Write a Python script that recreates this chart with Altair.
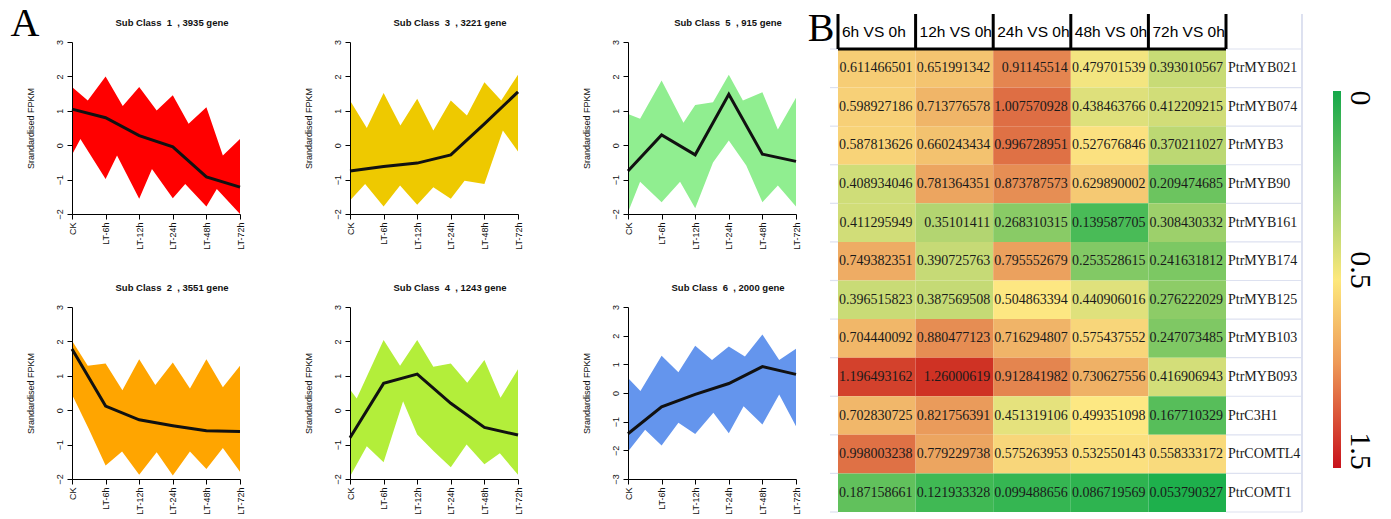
import json
import altair as alt
import pandas as pd

# ---------------- Panel A data ----------------
TIME_LABELS = ["CK", "LT-6h", "LT-12h", "LT-24h", "LT-48h", "LT-72h"]
TIME_POS = [0, 1, 2, 3, 4, 5]

CLASS_ORDER = [1, 3, 5, 2, 4, 6]
CLASS_GENES = {1: 3935, 2: 3551, 3: 3221, 4: 1243, 5: 915, 6: 2000}
CLASS_COLORS = {1: "#FF0000", 2: "#FFA500", 3: "#EEC900", 4: "#B3EE3A", 5: "#90EE90", 6: "#6495ED"}
CLASS_YRANGE = {1: (-2, 3), 2: (-2, 3), 3: (-2, 3), 4: (-2, 3), 5: (-2, 3), 6: (-3, 3)}

# mean profile (black line)
MEAN = {
    1: [1.05, 0.80, 0.28, -0.05, -0.92, -1.22],
    2: [1.78, 0.12, -0.28, -0.45, -0.60, -0.62],
    3: [-0.75, -0.62, -0.52, -0.28, 0.62, 1.55],
    4: [-0.80, 0.78, 1.05, 0.20, -0.50, -0.72],
    5: [-0.75, 0.30, -0.28, 1.48, -0.26, -0.47],
    6: [-1.42, -0.48, -0.05, 0.33, 0.92, 0.65],
}

# outline of the bundle of gene profiles (upper edge)
UPPER_X = {
    1: [0, 0.47, 1, 1.51, 2, 2.52, 3, 3.47, 4, 4.49, 5],
    2: [0, 0.47, 1, 1.50, 2, 2.48, 3, 3.51, 4, 4.49, 5],
    3: [0, 0.50, 1, 1.50, 2, 2.48, 3, 3.48, 4, 4.50, 5],
    4: [0, 0.20, 1, 1.49, 2, 2.48, 3, 3.49, 4, 4.48, 5],
    5: [0, 0.36, 1, 1.65, 2, 2.53, 3, 3.42, 4, 4.46, 5],
    6: [0, 0.37, 1, 1.50, 2, 2.50, 3, 3.48, 4, 4.50, 5],
}
UPPER_Y = {
    1: [1.69, 1.30, 2.00, 1.14, 1.69, 1.01, 1.45, 0.62, 1.10, -0.30, 0.18],
    2: [2.02, 1.29, 1.36, 0.58, 1.48, 0.73, 1.39, 0.63, 1.48, 0.67, 1.29],
    3: [1.30, 0.50, 1.52, 0.57, 1.35, 0.43, 1.30, 0.86, 1.83, 1.30, 2.05],
    4: [0.60, 0.34, 2.04, 1.29, 2.04, 1.26, 1.36, 0.80, 1.46, 0.36, 1.19],
    5: [0.91, 0.77, 1.88, 0.65, 1.17, 1.25, 2.05, 1.30, 1.54, 0.46, 1.38],
    6: [0.52, 0.07, 1.30, 0.72, 1.65, 1.15, 1.62, 1.27, 2.04, 1.15, 1.54],
}
# outline of the bundle of gene profiles (lower edge)
LOWER_X = {
    1: [0, 0.25, 1, 1.34, 2, 2.38, 3, 3.37, 4, 4.31, 5],
    2: [0, 0.50, 1, 1.49, 2, 2.52, 3, 3.51, 4, 4.49, 5],
    3: [0, 0.45, 1, 1.49, 2, 2.48, 3, 3.41, 4, 4.55, 5],
    4: [0, 0.50, 1, 1.58, 2, 2.50, 3, 3.47, 4, 4.46, 5],
    5: [0, 0.36, 1, 1.55, 2, 2.53, 3, 3.52, 4, 4.46, 5],
    6: [0, 0.51, 1, 1.50, 2, 2.54, 3, 3.44, 4, 4.50, 5],
}
LOWER_Y = {
    1: [-0.28, 0.18, -0.98, -0.30, -1.56, -0.69, -1.54, -1.13, -1.78, -1.27, -2.00],
    2: [0.46, -0.55, -1.61, -1.20, -1.88, -1.22, -1.90, -1.20, -1.71, -1.10, -1.79],
    3: [-1.61, -1.13, -1.78, -1.17, -1.73, -1.22, -1.56, -1.03, -1.13, 0.43, -0.18],
    4: [-1.93, -1.05, -1.51, 0.26, -0.71, -1.20, -1.66, -1.00, -1.57, -1.25, -1.88],
    5: [-1.95, -1.06, -1.66, -1.06, -1.83, -0.50, 0.14, -0.59, -1.66, -1.17, -1.78],
    6: [-2.04, -1.28, -1.83, -1.04, -1.43, -0.69, -1.40, -0.46, -1.10, -0.05, -1.16],
}

# ---------------- Panel B data ----------------
GENES = ["PtrMYB021", "PtrMYB074", "PtrMYB3", "PtrMYB90", "PtrMYB161", "PtrMYB174",
         "PtrMYB125", "PtrMYB103", "PtrMYB093", "PtrC3H1", "PtrCOMTL4", "PtrCOMT1"]
COMPARISONS = ["6h VS 0h", "12h VS 0h", "24h VS 0h", "48h VS 0h", "72h VS 0h"]
V_6H = [0.611466501, 0.598927186, 0.587813626, 0.408934046, 0.411295949, 0.749382351,
        0.396515823, 0.704440092, 1.196493162, 0.702830725, 0.998003238, 0.187158661]
V_12H = [0.651991342, 0.713776578, 0.660243434, 0.781364351, 0.35101411, 0.390725763,
         0.387569508, 0.880477123, 1.26000619, 0.821756391, 0.779229738, 0.121933328]
V_24H = [0.91145514, 1.007570928, 0.996728951, 0.873787573, 0.268310315, 0.795552679,
         0.504863394, 0.716294807, 0.912841982, 0.451319106, 0.575263953, 0.099488656]
V_48H = [0.479701539, 0.438463766, 0.527676846, 0.629890002, 0.139587705, 0.253528615,
         0.440906016, 0.575437552, 0.730627556, 0.499351098, 0.532550143, 0.086719569]
V_72H = [0.393010567, 0.412209215, 0.370211027, 0.209474685, 0.308430332, 0.241631812,
         0.276222029, 0.247073485, 0.416906943, 0.167710329, 0.558333172, 0.053790327]
LEGEND_TICKS = [0, 0.5, 1.5]
LEGEND_LABELS = ["0", "0.5", "1.5"]
PANEL_LETTERS = ["A", "B"]

# ---------------- styling / layout ----------------
SANS = "Liberation Sans"
SERIF = "Liberation Serif"
NB = "\u00a0"
label_expr = json.dumps(TIME_LABELS) + "[datum.value]"
PLOT_W, PLOT_H = 168, 172
CELL_W = 278          # every panel-A cell: plot (168) + gap (110)
HEAT_SHIFT = 68       # heatmap starts this far left of its grid cell
HEAT_W = 427          # grid cell of the heatmap (up to the colour key)
TABLE_W = 388         # five value columns
KEY_W = 8


def subclass_chart(k):
    ymin, ymax = CLASS_YRANGE[k]
    xs = alt.Scale(domain=[0, 5], range=[0, PLOT_W], nice=False, zero=False)
    ys = alt.Scale(domain=[ymin, ymax], nice=False, zero=False)
    xaxis = alt.Axis(values=TIME_POS, labelExpr=label_expr, labelAngle=270, title=None,
                     grid=False, labelFont=SANS, labelFontSize=9, labelColor="#111",
                     labelFlush=False, labelOverlap=False, labelBound=False,
                     tickSize=5, tickColor="black", domainColor="black", zindex=1,
                     labelPadding=3)
    yaxis = alt.Axis(values=list(range(ymin, ymax + 1)), labelAngle=270, title="Srandardised FPKM",
                     grid=False, labelFont=SANS, labelFontSize=9, labelColor="#111",
                     labelFlush=False, labelOverlap=False, labelBound=False,
                     labelSeparation=0,
                     tickSize=5, tickColor="black", domainColor="black", zindex=1,
                     titleFont=SANS, titleFontSize=9, titleFontWeight="normal",
                     titleColor="#111", titlePadding=20, labelPadding=3)
    up = pd.DataFrame({"pos": UPPER_X[k], "val": UPPER_Y[k]})
    lo = pd.DataFrame({"pos": LOWER_X[k], "val": LOWER_Y[k]})
    mean = pd.DataFrame({"pos": TIME_POS, "val": MEAN[k]})

    band = alt.Chart(up).mark_area(color=CLASS_COLORS[k], opacity=1).encode(
        x=alt.X("pos:Q", scale=xs, axis=xaxis),
        y=alt.Y("val:Q", scale=ys, axis=yaxis),
        y2=alt.datum(ymin),
    )
    cut = alt.Chart(lo).mark_area(color="white", opacity=1).encode(
        x=alt.X("pos:Q", scale=xs, axis=xaxis),
        y=alt.Y("val:Q", scale=ys, axis=yaxis),
        y2=alt.datum(ymin),
    )
    line = alt.Chart(mean).mark_line(color="#111", strokeWidth=3).encode(
        x=alt.X("pos:Q", scale=xs, axis=xaxis),
        y=alt.Y("val:Q", scale=ys, axis=yaxis),
    )
    title = alt.TitleParams(
        text=f"Sub Class{NB}{NB}{k}{NB}{NB}, {CLASS_GENES[k]} gene", font=SANS, fontSize=9.5,
        fontWeight="bold", color="#111", anchor="middle", dx=PLOT_W / 2 + 16 - CELL_W / 2,
        offset=12, frame="group",
    )
    return alt.layer(band, cut, line).properties(width=CELL_W, height=PLOT_H, title=title)


charts = {k: subclass_chart(k) for k in CLASS_ORDER}

# ---------------- Panel B: heatmap ----------------
cols = [V_6H, V_12H, V_24H, V_48H, V_72H]
recs = []
for j, (cname, vals) in enumerate(zip(COMPARISONS, cols)):
    for i, (g, v) in enumerate(zip(GENES, vals)):
        recs.append({"gene": g, "comp": cname, "value": v, "label": str(v),
                     "i0": i, "i1": i + 1, "im": i + 0.5, "j0": j, "j1": j + 1})
hm = pd.DataFrame(recs)
gene_df = pd.DataFrame({"gene": GENES, "i0": range(len(GENES))})
gene_df["im"] = gene_df["i0"] + 0.5
comp_df = pd.DataFrame({"comp": COMPARISONS, "j0": range(len(COMPARISONS))})
bound_df = pd.DataFrame({"b": range(len(COMPARISONS) + 1)})
row_bound_df = pd.DataFrame({"b": range(len(GENES) + 1)})

x0, x1 = -HEAT_SHIFT, TABLE_W - HEAT_SHIFT
hx = alt.Scale(domain=[0, len(COMPARISONS)], range=[x0, x1], nice=False, zero=False)
hy = alt.Scale(domain=[0, len(GENES)], range=[7, 470], nice=False, zero=False)

cells = alt.Chart(hm).mark_rect().encode(
    x=alt.X("j0:Q", scale=hx, axis=None), x2="j1:Q",
    y=alt.Y("i0:Q", scale=hy, axis=None), y2="i1:Q",
    color=alt.Color("value:Q", legend=None,
                    scale=alt.Scale(domain=[0.0538, 0.5, 1.26],
                                    range=["#1eb04c", "#fde883", "#cf3224"], interpolate="rgb")),
)
cell_text = alt.Chart(hm).mark_text(
    font=SERIF, fontSize=14, align="right", baseline="middle", dx=-3, color="#1a1a1a"
).encode(x=alt.X("j1:Q", scale=hx), y=alt.Y("im:Q", scale=hy), text="label:N")
row_labels = alt.Chart(gene_df).mark_text(
    font=SERIF, fontSize=14, align="left", baseline="middle", color="#1a1a1a"
).encode(x=alt.value(x1 + 2), y=alt.Y("im:Q", scale=hy), text="gene:N")
grid_lines = alt.Chart(row_bound_df).mark_rule(color="#dde1f0", strokeWidth=1.2).encode(
    y=alt.Y("b:Q", scale=hy), x=alt.value(x1), x2=alt.value(x1 + 76))
left_ticks = alt.Chart(row_bound_df).mark_rule(color="#dde1f0", strokeWidth=1.2).encode(
    y=alt.Y("b:Q", scale=hy), x=alt.value(x0 - 8), x2=alt.value(x0))
right_edge = alt.Chart(row_bound_df).mark_rule(color="#dde1f0", strokeWidth=1.2).encode(
    x=alt.value(x1 + 76), y=alt.value(-28), y2=alt.value(470))
header_text = alt.Chart(comp_df).mark_text(
    font=SANS, fontSize=15.5, align="left", baseline="middle", dx=4, color="black"
).encode(x=alt.X("j0:Q", scale=hx), y=alt.value(-10), text="comp:N")
header_bars = alt.Chart(bound_df).mark_rule(color="black", strokeWidth=3).encode(
    x=alt.X("b:Q", scale=hx), y=alt.value(-28), y2=alt.value(7))
header_line = alt.Chart(bound_df).mark_rule(color="black", strokeWidth=3).encode(
    x=alt.X("min(b):Q", scale=hx), x2="max(b):Q", y=alt.value(7))
letters = alt.Chart(pd.DataFrame({"t": PANEL_LETTERS, "px": [25 - 906, 821 - 906],
                                  "py": [-6, -1]})).mark_text(
    font=SERIF, fontSize=40, align="center", baseline="alphabetic", color="black"
).encode(text="t:N", x=alt.X("px:Q", scale=None), y=alt.Y("py:Q", scale=None))

heatmap = alt.layer(
    cells, cell_text, grid_lines, left_ticks, right_edge, row_labels,
    header_text, header_bars, header_line, letters
).properties(width=HEAT_W, height=PLOT_H)

# ---------------- color key ----------------
key_bar = alt.Chart(pd.DataFrame({"lo": [LEGEND_TICKS[0]], "hi": [LEGEND_TICKS[-1]]})).mark_rect(
    color=alt.Gradient(
        gradient="linear",
        stops=[alt.GradientStop(color="#15a84a", offset=0),
               alt.GradientStop(color="#8fcd6a", offset=0.27),
               alt.GradientStop(color="#fde87c", offset=0.5),
               alt.GradientStop(color="#ee9a58", offset=0.72),
               alt.GradientStop(color="#c8121c", offset=1)],
        x1=0, x2=0, y1=0, y2=1,
    ),
    strokeWidth=0,
).encode(
    y=alt.Y("lo:Q", scale=alt.Scale(domain=[0, 1.5], range=[49, 426], nice=False, zero=False), axis=None),
    y2="hi:Q", x=alt.value(0), x2=alt.value(8),
)
key_labels = alt.Chart(pd.DataFrame({"v": LEGEND_TICKS, "t": LEGEND_LABELS})).mark_text(
    font=SERIF, fontSize=30, angle=90, align="center", baseline="middle", color="black"
).encode(
    y=alt.Y("v:Q", scale=alt.Scale(domain=[0, 0.5, 1.5], range=[56, 228, 409], nice=False, zero=False),
            axis=None),
    x=alt.value(27), text="t:N",
)
key = alt.layer(key_bar, key_labels).resolve_scale(y="independent").properties(width=KEY_W, height=PLOT_H)

chart = alt.concat(
    charts[1], charts[3], charts[5], heatmap, key,
    charts[2], charts[4], charts[6],
    columns=5, bounds="flush", align="each", spacing={"row": 93, "column": 0},
).properties(
    padding={"left": 2, "top": -4, "right": 0, "bottom": 0},
    background="white",
).configure_view(stroke=None).configure_axis(labelOverlap=False)

chart.save("out.html", embed_options={"renderer": "svg", "actions": False})
